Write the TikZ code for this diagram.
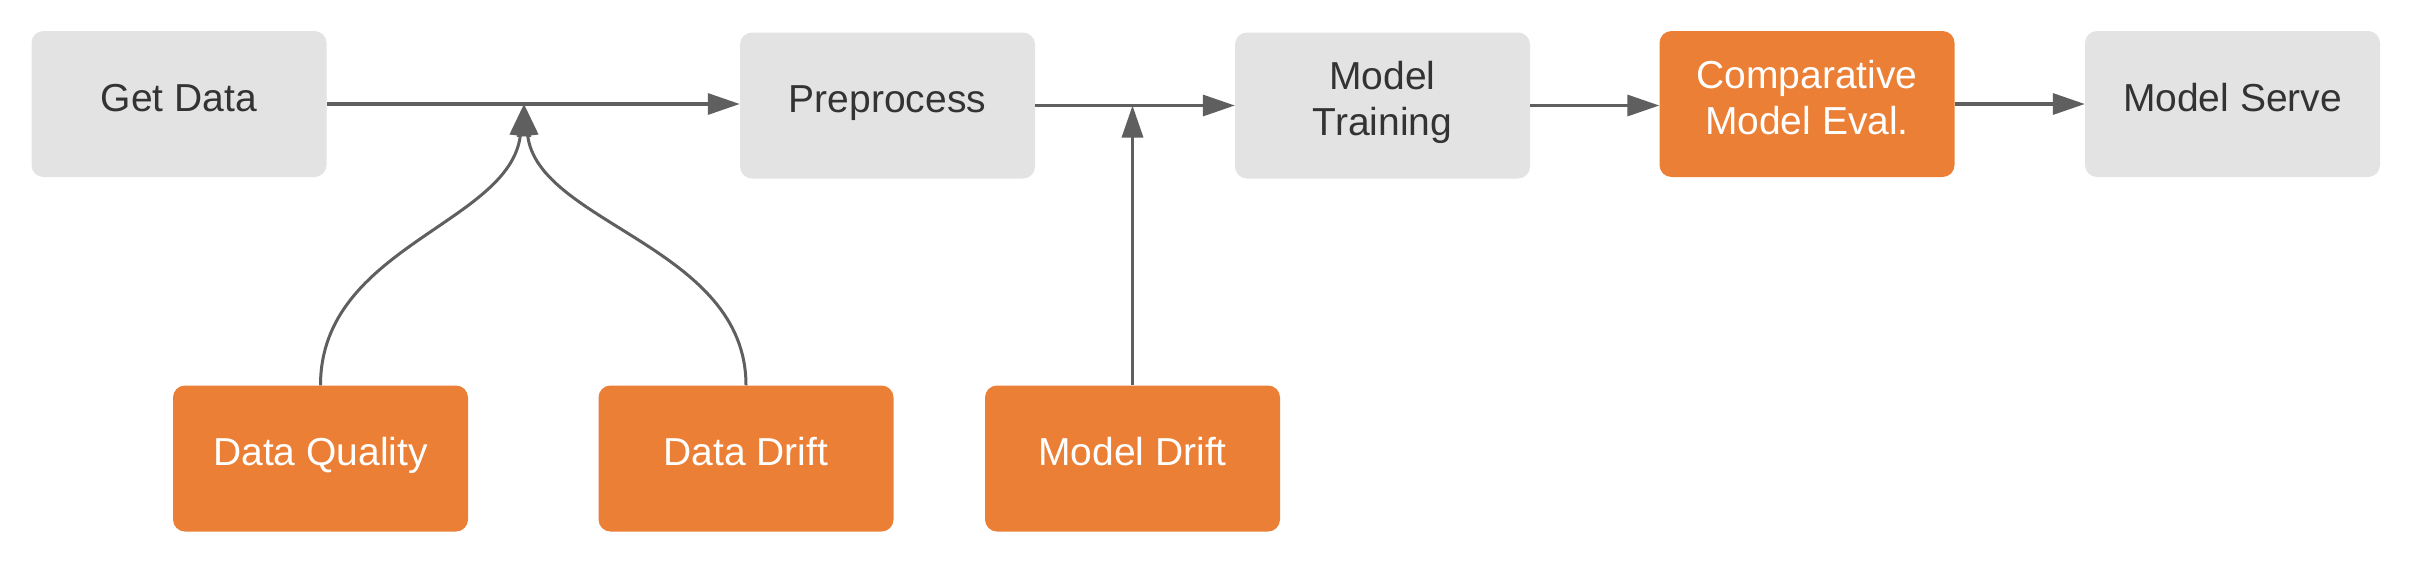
\documentclass[tikz,border=0pt]{standalone}
\usepackage{fontspec}
\setmainfont{Liberation Sans}
\usetikzlibrary{arrows.meta}
\definecolor{boxgrey}{HTML}{E3E3E3}
\definecolor{boxorange}{HTML}{EB7F36}
\definecolor{linegrey}{HTML}{5F5F5F}
\definecolor{textdark}{HTML}{333333}
\newcommand\tb[1]{\begin{tabular}{@{}c@{}}#1\\[4pt]\end{tabular}}
\begin{document}
\begin{tikzpicture}[x=1pt,y=-1pt,
  base/.style={rectangle, rounded corners=12pt, minimum width=295pt, minimum height=146pt, inner sep=0pt, font=\fontsize{39}{46}\selectfont},
  greybox/.style={base, fill=boxgrey, text=textdark},
  orangebox/.style={base, fill=boxorange, text=white},
  arr/.style={draw=linegrey, line width=3.3pt, -{Triangle[length=32pt,width=21pt]}},
  curvearr/.style={arr, line width=3pt}]
\useasboundingbox[fill=white] (0,0) rectangle (2416,574);
\node[greybox] (gd) at (179,104) {\tb{Get Data}};
\node[greybox] (pp) at (887.5,105.5) {\tb{Preprocess}};
\node[greybox] (tr) at (1382.5,105.5) {\tb{Model\\Training}};
\node[orangebox] (ce) at (1807,104) {\tb{Comparative\\Model Eval.}};
\node[greybox] (ms) at (2232.5,104) {\tb{Model Serve}};
\node[orangebox] (dq) at (320.5,458.5) {\tb{Data Quality}};
\node[orangebox] (dd) at (746,458.5) {\tb{Data Drift}};
\node[orangebox] (md) at (1132.5,458.5) {\tb{Model Drift}};
\coordinate (j1) at (524,104);
\draw[arr] (gd.east) -- (gd.east -| pp.west);
\draw[arr] (pp.east) -- (tr.west);
\draw[arr] (tr.east) -- (tr.east -| ce.west);
\draw[arr] (ce.east) -- (ce.east -| ms.west);
\draw[curvearr] (dq.north) .. controls +(0,-139) and (510,224) .. (j1);
\draw[curvearr] (dd.north) .. controls +(0,-139) and (538,224) .. (j1);
\draw[arr] (md.north) -- (md.north |- pp.east);
\end{tikzpicture}
\end{document}
